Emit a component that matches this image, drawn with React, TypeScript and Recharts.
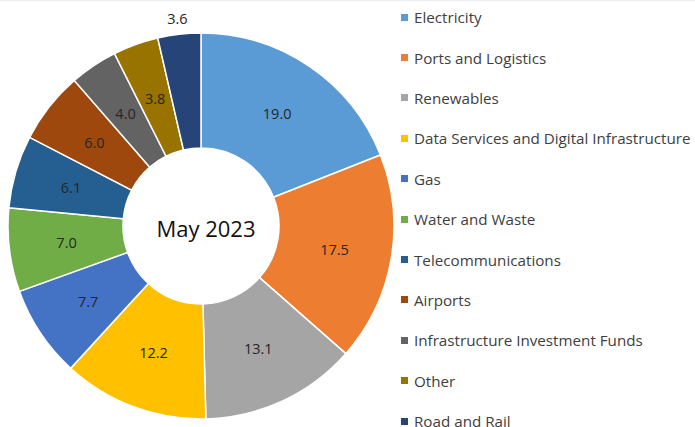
import { PieChart, Pie, Cell } from 'recharts';

const sectors = [
  'Electricity',
  'Ports and Logistics',
  'Renewables',
  'Data Services and Digital Infrastructure',
  'Gas',
  'Water and Waste',
  'Telecommunications',
  'Airports',
  'Infrastructure Investment Funds',
  'Other',
  'Road and Rail',
];
const shares = [19.0, 17.5, 13.1, 12.2, 7.7, 7.0, 6.1, 6.0, 4.0, 3.8, 3.6];
const colors = [
  '#5b9bd5', '#ed7d31', '#a5a5a5', '#ffc000', '#4472c4', '#70ad47',
  '#255e91', '#9e480e', '#636363', '#997300', '#264478',
];
const centerLabel = 'May 2023';

const data = sectors.map((name, i) => ({ name, value: shares[i] }));

const RADIAN = Math.PI / 180;
const FONT = '"Open Sans", "Noto Sans", sans-serif';

function renderLabel(props: any) {
  const { cx, cy, midAngle, innerRadius, outerRadius, value, index } = props;
  // the last (narrow) slice gets its label outside the ring
  const r = index === data.length - 1 ? outerRadius + 16 : (innerRadius + outerRadius) / 2;
  const x = cx + r * Math.cos(-midAngle * RADIAN);
  const y = cy + r * Math.sin(-midAngle * RADIAN);
  return (
    <text x={x} y={y} fill="#262626" fontSize={14.5} fontFamily={FONT} textAnchor="middle" dominantBaseline="central">
      {Number(value).toFixed(1)}
    </text>
  );
}

function LegendList() {
  return (
    <ul style={{ position: 'absolute', left: 401, top: -3, listStyle: 'none', margin: 0, padding: 0, fontFamily: FONT }}>
      {sectors.map((name, i) => (
        <li key={name} style={{ height: 40.4, display: 'flex', alignItems: 'center', fontSize: 15.2, color: '#404040', whiteSpace: 'nowrap' }}>
          <span style={{ display: 'inline-block', width: 7, height: 7, background: colors[i], marginRight: 6 }} />
          {name}
        </li>
      ))}
    </ul>
  );
}

export default function App() {
  return (
    <div style={{ width: 695, height: 427, background: '#fff', position: 'relative', overflow: 'hidden' }}>
      <style>{'body{margin:0}'}</style>
      <div style={{ position: 'absolute', left: 0, top: 0, width: 695, height: 1, background: '#e9edf4' }} />
      <PieChart width={695} height={427} margin={{ top: 0, right: 0, bottom: 0, left: 0 }}>
        <Pie
          data={data}
          dataKey="value"
          nameKey="name"
          cx={201}
          cy={226}
          innerRadius={78}
          outerRadius={193}
          startAngle={90}
          endAngle={-270}
          stroke="#ffffff"
          strokeWidth={1.5}
          label={renderLabel}
          labelLine={false}
          isAnimationActive={false}
        >
          {data.map((d, i) => (
            <Cell key={d.name} fill={colors[i]} />
          ))}
        </Pie>
        <text x={206} y={228} textAnchor="middle" dominantBaseline="central" fontSize={22} fontFamily={FONT} fill="#111111">
          {centerLabel}
        </text>
      </PieChart>
      <LegendList />
    </div>
  );
}
